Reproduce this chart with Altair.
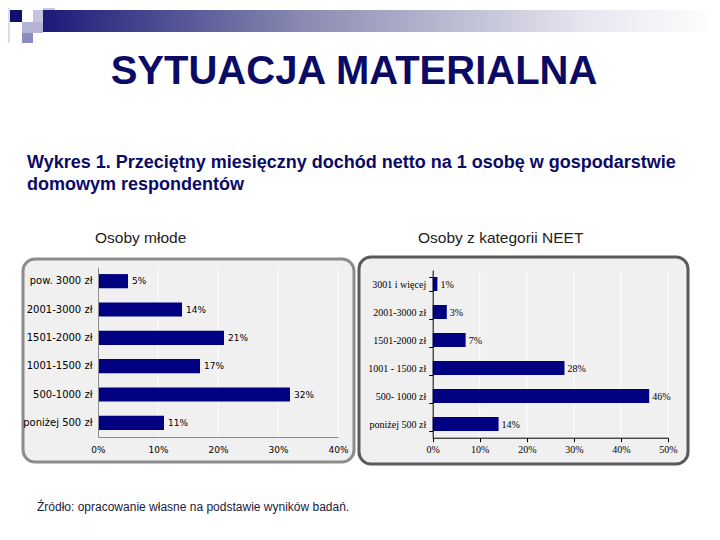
import altair as alt
import pandas as pd

# ---- data ----
cats_young = ["pow. 3000 zł", "2001-3000 zł", "1501-2000 zł", "1001-1500 zł", "500-1000 zł", "poniżej 500 zł"]
vals_young = [5, 14, 21, 17, 32, 11]
ticks_young = [0, 10, 20, 30, 40]

cats_neet = ["3001 i więcej", "2001-3000 zł", "1501-2000 zł", "1001 - 1500 zł", "500- 1000 zł", "poniżej 500 zł"]
vals_neet = [1, 3, 7, 28, 46, 14]
ticks_neet = [0, 10, 20, 30, 40, 50]

title_text = "SYTUACJA MATERIALNA"
subtitle_1 = "Wykres  1. Przeciętny miesięczny dochód netto na 1 osobę w gospodarstwie"
subtitle_2 = "domowym respondentów"
panel_titles = ["Osoby młode", "Osoby z kategorii NEET"]
source_text = "Źródło: opracowanie własne na podstawie wyników badań."

W, H = 704, 524
NAVY = "#000080"
TXT = "#0b0b66"

df_y = pd.DataFrame({"cat": cats_young, "val": vals_young})
df_y["lab"] = [f"{v}%" for v in vals_young]
df_n = pd.DataFrame({"cat": cats_neet, "val": vals_neet})
df_n["lab"] = [f"{v}%" for v in vals_neet]
grid_y = pd.DataFrame({"t": ticks_young[1:]})
grid_n = pd.DataFrame({"t": ticks_neet[1:]})

one = pd.DataFrame({"a": [0]})


def box(x1, y1, x2, y2, **kw):
    return alt.Chart(one).mark_rect(**kw).encode(
        x=alt.value(x1), x2=alt.value(x2), y=alt.value(y1), y2=alt.value(y2))


def label(txt, x, y, **kw):
    return alt.Chart(one).mark_text(text=txt, **kw).encode(x=alt.value(x), y=alt.value(y))


# ---- decorations ----
grad = alt.Gradient(
    gradient="linear", x1=0, x2=1, y1=0, y2=0,
    stops=[alt.GradientStop(color="#1a1a78", offset=0),
           alt.GradientStop(color="#8e8eb4", offset=0.4),
           alt.GradientStop(color="#e6e6f0", offset=0.8),
           alt.GradientStop(color="#ffffff", offset=1)])
decor = [
    box(-8, -8, 2, 35, color="#dcdcee"),
    box(35, -8, 47, 2, color="#c8c8e0"),
    box(25, 2, 47, 14, color="#c4c4de"),
    box(2, 2, 14, 14, color="#10106e"),
    box(14, 14, 35, 25, color="#b4b4d8"),
    box(14, 25, 25, 35, color="#8c8cc0"),
    box(35, 2, 712, 24, color=grad),
]

texts = [
    label(title_text, 346, 64, font="Liberation Sans", fontSize=40, fontWeight="bold",
          color=TXT, align="center", baseline="middle"),
    label(subtitle_1, 19, 155, font="Liberation Sans", fontSize=18,
          fontWeight="bold", color=TXT, align="left", baseline="middle"),
    label(subtitle_2, 19, 177, font="Liberation Sans", fontSize=18,
          fontWeight="bold", color=TXT, align="left", baseline="middle"),
    label(panel_titles[0], 87, 230, font="Liberation Sans", fontSize=15.5, color="#222222",
          align="left", baseline="middle"),
    label(panel_titles[1], 410, 230, font="Liberation Sans", fontSize=15.5, color="#222222",
          align="left", baseline="middle"),
    label(source_text, 29, 499, font="Liberation Sans", fontSize=12, color="#1a1a3c",
          align="left", baseline="middle"),
]

panels_bg = [
    box(15, 251, 346, 454, fill="#f0f0f0", stroke="#8c8c8c", strokeWidth=3, cornerRadius=12),
    box(351, 249, 680, 456, fill="#f0f0f0", stroke="#5a5a5a", strokeWidth=3, cornerRadius=12),
]

# ---- left panel: Osoby młode ----
xl = alt.X("val:Q", scale=alt.Scale(domain=[0, 40], range=[90, 330], nice=False),
           axis=alt.Axis(orient="bottom", offset=-95, values=ticks_young, zindex=1,
                         labelExpr="datum.value + '%'", grid=False, ticks=False, tickSize=0,
                         domainColor="#8c8c8c", labelFont="DejaVu Sans", labelFontSize=9,
                         labelColor="#000", labelPadding=8, labelFlush=False, title=None))
yl = alt.Y("cat:N", sort=cats_young,
           scale=alt.Scale(range=[259, 429], paddingInner=0.5, paddingOuter=0.25),
           axis=alt.Axis(orient="left", offset=-90, ticks=False, tickSize=0, domainColor="#8c8c8c",
                         labelFont="DejaVu Sans", labelFontSize=10, labelColor="#000", zindex=1,
                         labelPadding=6, title=None))
left_grid = alt.Chart(grid_y).mark_rule(color="white", strokeWidth=1).encode(
    x=alt.X("t:Q"), y=alt.value(259), y2=alt.value(429))
left_bars = alt.Chart(df_y).mark_bar(color=NAVY).encode(x=xl, y=yl)
left_text = alt.Chart(df_y).mark_text(align="left", baseline="middle", dx=4, font="DejaVu Sans",
                                      fontSize=9, color="#000").encode(
    x="val:Q", y=alt.Y("cat:N", sort=cats_young), text="lab:N")
left = alt.layer(left_grid, left_bars, left_text)

# ---- right panel: NEET ----
xr = alt.X("val:Q", scale=alt.Scale(domain=[0, 50], range=[424.7, 660], nice=False),
           axis=alt.Axis(orient="bottom", offset=-94.3, values=ticks_neet, zindex=1,
                         labelExpr="datum.value + '%'", grid=False, tickSize=4, tickColor="#000",
                         domainColor="#000", labelFont="Liberation Serif", labelFontSize=10,
                         labelColor="#000", labelPadding=3, labelFlush=False, title=None))
yr = alt.Y("cat:N", sort=cats_neet,
           scale=alt.Scale(range=[262, 430], paddingInner=0.5, paddingOuter=0.25),
           axis=alt.Axis(orient="left", offset=-424.7, tickBand="extent", tickSize=4, zindex=1,
                         tickColor="#000", domainColor="#000", labelFont="Liberation Serif",
                         labelFontSize=10, labelColor="#000", labelPadding=3, title=None))
right_grid = alt.Chart(grid_n).mark_rule(color="white", strokeWidth=1).encode(
    x=alt.X("t:Q"), y=alt.value(262), y2=alt.value(430))
right_bars = alt.Chart(df_n).mark_bar(color=NAVY).encode(x=xr, y=yr)
right_text = alt.Chart(df_n).mark_text(align="left", baseline="middle", dx=3, dy=1,
                                       font="Liberation Serif", fontSize=10, color="#000").encode(
    x="val:Q", y=alt.Y("cat:N", sort=cats_neet), text="lab:N")
right = alt.layer(right_grid, right_bars, right_text)

chart = alt.layer(*decor, *texts, *panels_bg, left, right).resolve_scale(
    x="independent", y="independent").properties(
    width=W, height=H, autosize="none", padding=0, background="white"
).configure_view(stroke=None)

chart.save("out.html", embed_options={"renderer": "svg", "actions": False})
